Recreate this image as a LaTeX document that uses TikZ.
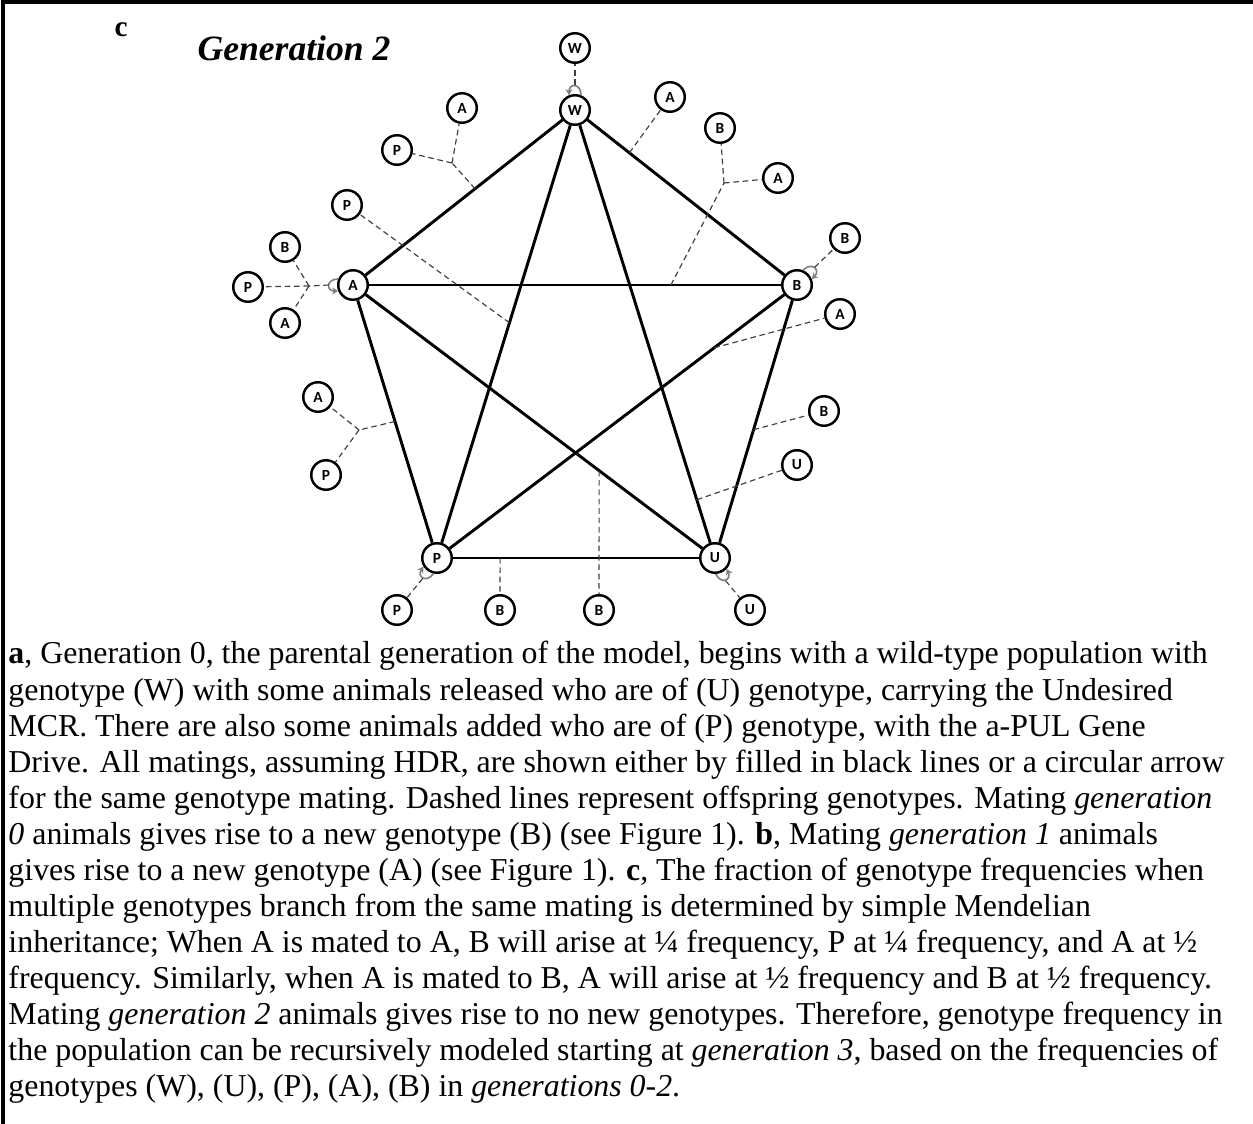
\documentclass[tikz,border=0pt]{standalone}
\usepackage{fontspec}
\setmainfont{Liberation Serif}
\newfontfamily\genofont{Carlito}
\usepackage{tikz}
\usetikzlibrary{calc,arrows.meta}

\tikzset{
  geno/.style={circle, draw, line width=1.05pt, minimum size=12.6pt, inner sep=0pt,
    fill=white, font=\genofont\bfseries\fontsize{6.6}{6.6}\selectfont},
  mate/.style={line width=1.25pt},
  offs/.style={draw=black!75, line width=0.5pt, dash pattern=on 2.4pt off 1.6pt},
  loopy/.style={draw=black!50, line width=0.7pt, -{Stealth[length=2.6pt,width=3pt]}},
}

\begin{document}
\begin{tikzpicture}[x=0.015cm, y=0.015cm]
   \useasboundingbox (0,0) rectangle (1253,-1124);
   \draw[line width=1.7pt] (3,-1124) -- (3,-2) -- (1253,-2);
   \node[font=\bfseries\fontsize{12.5}{14}\selectfont] (lbl) at (121,-30) {c};
   \node[font=\bfseries\itshape\fontsize{15.2}{18}\selectfont] (title) at (294,-48) {Generation 2};

   % mating generation
   \node[geno] (g_W) at (575,-110) {W};
   \node[geno] (g_A) at (353,-285) {A};
   \node[geno] (g_B) at (797,-285) {B};
   \node[geno] (g_P) at (437,-558) {P};
   \node[geno] (g_U) at (715,-558) {U};

   % offspring
   \node[geno] (o_1)  at (575,-48)  {W};
   \node[geno] (o_2)  at (462,-108) {A};
   \node[geno] (o_3)  at (397,-150) {P};
   \node[geno] (o_4)  at (670,-97)  {A};
   \node[geno] (o_5)  at (720,-128) {B};
   \node[geno] (o_6)  at (778,-178) {A};
   \node[geno] (o_7)  at (347,-205) {P};
   \node[geno] (o_8)  at (845,-238) {B};
   \node[geno] (o_9)  at (285,-247) {B};
   \node[geno] (o_10) at (248,-287) {P};
   \node[geno] (o_11) at (285,-323) {A};
   \node[geno] (o_12) at (840,-314) {A};
   \node[geno] (o_13) at (318,-397) {A};
   \node[geno] (o_14) at (824,-411) {B};
   \node[geno] (o_15) at (797,-465) {U};
   \node[geno] (o_16) at (326,-475) {P};
   \node[geno] (o_17) at (397,-610) {P};
   \node[geno] (o_18) at (500,-610) {B};
   \node[geno] (o_19) at (599,-610) {B};
   \node[geno] (o_20) at (750,-610) {U};

   % points on the matings and branch points
   \coordinate (e_WA) at ($(g_W)!0.45!(g_A)$);
   \coordinate (e_WB) at ($(g_W)!0.245!(g_B)$);
   \coordinate (e_AB) at ($(g_A)!0.716!(g_B)$);
   \coordinate (e_WP) at ($(g_W)!0.475!(g_P)$);
   \coordinate (e_AP) at ($(g_A)!0.5!(g_P)$);
   \coordinate (e_BP) at ($(g_B)!0.23!(g_P)$);
   \coordinate (e_BU) at ($(g_B)!0.53!(g_U)$);
   \coordinate (e_WU) at ($(g_W)!0.87!(g_U)$);
   \coordinate (e_PU) at ($(g_P)!0.227!(g_U)$);
   \coordinate (e_AU) at ($(g_A)!0.68!(g_U)$);
   \coordinate (j_1) at (452,-163);
   \coordinate (j_2) at (724,-183);
   \coordinate (j_3) at (309,-286);
   \coordinate (j_4) at (359,-430);
   \coordinate (l_W) at ($(g_W)+(90:25)$);
   \coordinate (l_A) at ($(g_A)+(180:24)$);
   \coordinate (l_B) at ($(g_B)+(45:25)$);
   \coordinate (l_P) at ($(g_P)+(235:25)$);
   \coordinate (l_U) at ($(g_U)+(295:25)$);

   \path[mate]
    (g_W) edge (g_A)
          edge (g_B)
          edge (g_P)
          edge (g_U)
    (g_A) edge (g_B)
          edge (g_P)
          edge (g_U)
    (g_B) edge (g_P)
          edge (g_U)
    (g_P) edge (g_U);

   % same genotype matings
   \draw[loopy] (g_W.68) to[out=90, in=90, looseness=2.6] (g_W.112);
   \draw[loopy] (g_A.158) to[out=180, in=180, looseness=2.6] (g_A.202);
   \draw[loopy] (g_B.68) to[out=45, in=45, looseness=2.6] (g_B.22);
   \draw[loopy] (g_P.257) to[out=235, in=235, looseness=2.6] (g_P.213);
   \draw[loopy] (g_U.273) to[out=295, in=295, looseness=2.6] (g_U.317);

   \path[offs]
    (l_W) edge (o_1)
    (e_WA) edge (j_1) (j_1) edge (o_2) edge (o_3)
    (e_WB) edge (o_4)
    (e_AB) edge (j_2) (j_2) edge (o_5) edge (o_6)
    (e_WP) edge (o_7)
    (l_B) edge (o_8)
    (l_A) edge (j_3) (j_3) edge (o_9) edge (o_10) edge (o_11)
    (e_BP) edge (o_12)
    (e_AP) edge (j_4) (j_4) edge (o_13) edge (o_16)
    (e_BU) edge (o_14)
    (e_WU) edge (o_15)
    (l_P) edge (o_17)
    (e_PU) edge (o_18)
    (e_AU) edge (o_19)
    (l_U) edge (o_20);

   \node[anchor=north west, inner sep=0pt, align=left,
     font=\fontsize{13.6}{15.4}\selectfont] (cap) at (8,-641) {%
     \textbf{a}, Generation 0, the parental generation of the model, begins with a wild-type population with\\
     genotype (W) with some animals released who are of (U) genotype, carrying the Undesired\\
     MCR. There are also some animals added who are of (P) genotype, with the a-PUL Gene\\
     Drive. All matings, assuming HDR, are shown either by filled in black lines or a circular arrow\\
     for the same genotype mating. Dashed lines represent offspring genotypes. Mating \textit{generation}\\
     \textit{0} animals gives rise to a new genotype (B) (see Figure 1). \textbf{b}, Mating \textit{generation 1} animals\\
     gives rise to a new genotype (A) (see Figure 1). \textbf{c}, The fraction of genotype frequencies when\\
     multiple genotypes branch from the same mating is determined by simple Mendelian\\
     inheritance; When A is mated to A, B will arise at ¼ frequency, P at ¼ frequency, and A at ½\\
     frequency. Similarly, when A is mated to B, A will arise at ½ frequency and B at ½ frequency.\\
     Mating \textit{generation 2} animals gives rise to no new genotypes. Therefore, genotype frequency in\\
     the population can be recursively modeled starting at \textit{generation 3}, based on the frequencies of\\
     genotypes (W), (U), (P), (A), (B) in \textit{generations 0-2}.};
\end{tikzpicture}
\end{document}
